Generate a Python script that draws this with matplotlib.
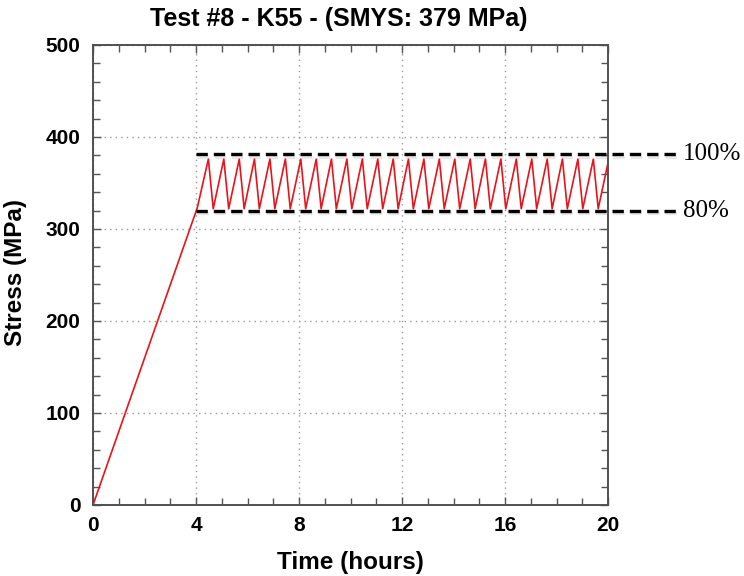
import matplotlib
matplotlib.use("Agg")
import matplotlib.pyplot as plt
import matplotlib.patheffects as pe
from matplotlib.ticker import MultipleLocator

# --- data ---
time_h = [0.0, 4.05, 4.48, 4.67, 5.08, 5.27, 5.68, 5.87, 6.27, 6.46, 6.87, 7.06,
          7.47, 7.66, 8.07, 8.26, 8.67, 8.86, 9.26, 9.45, 9.86, 10.05, 10.46, 10.65,
          11.06, 11.25, 11.66, 11.85, 12.25, 12.44, 12.85, 13.04, 13.45, 13.64,
          14.05, 14.24, 14.65, 14.84, 15.24, 15.43, 15.84, 16.03, 16.44, 16.63,
          17.04, 17.23, 17.64, 17.83, 18.23, 18.42, 18.83, 19.02, 19.43, 19.62, 20.0]
stress_mpa = [0, 323, 376, 322, 376, 322, 376, 322, 376, 322, 376, 322,
              376, 322, 376, 322, 376, 322, 376, 322, 376, 322, 376, 322,
              376, 322, 376, 322, 376, 322, 376, 322, 376, 322,
              376, 322, 376, 322, 376, 322, 376, 322, 376, 322,
              376, 322, 376, 322, 376, 322, 376, 322, 376, 322, 372]

limit_levels = [381, 320]
limit_labels = ["100%", "80%"]
limit_start = 4.0
limit_end = 22.7

title = "Test #8 - K55 - (SMYS: 379 MPa)"
xlabel = "Time (hours)"
ylabel = "Stress (MPa)"
xticks = [0, 4, 8, 12, 16, 20]
yticks = [0, 100, 200, 300, 400, 500]

fig = plt.figure(figsize=(7.44, 5.76), dpi=100)
ax = fig.add_axes([93/744, 71/576, 515/744, 460/576])

ax.plot(time_h, stress_mpa, color="#e8141b", lw=1.2, zorder=3)

shadow = [pe.SimpleLineShadow(offset=(1, -2), shadow_color="0.6", alpha=0.22), pe.Normal()]
for lvl, lab in zip(limit_levels, limit_labels):
    ax.plot([limit_start, limit_end], [lvl, lvl], color="black", lw=2.4,
            dashes=(3.4, 1.8), clip_on=False, zorder=4, path_effects=shadow)
    ax.text(limit_end + 0.2, lvl, lab, family="Liberation Serif", fontsize=18,
            va="center", ha="left", clip_on=False)

ax.set_xlim(0, 20)
ax.set_ylim(0, 500)
ax.set_xticks(xticks)
ax.set_yticks(yticks)
ax.xaxis.set_minor_locator(MultipleLocator(1))
ax.yaxis.set_minor_locator(MultipleLocator(20))
ax.grid(True, which="major", linestyle=(0, (1, 3)), color="0.6", lw=1)
ax.set_axisbelow(True)

ax.tick_params(which="both", direction="in", top=True, right=True, color="#555555")
ax.tick_params(which="major", length=6, width=1)
ax.tick_params(which="minor", length=5, width=1)
ax.tick_params(axis="x", pad=8)
ax.tick_params(axis="y", pad=9)
for s in ax.spines.values():
    s.set_color("#505050")
    s.set_linewidth(1.4)

for lbl in ax.get_xticklabels() + ax.get_yticklabels():
    lbl.set_family("Liberation Sans")
    lbl.set_fontweight("bold")
    lbl.set_fontsize(15)

fig.text(339/744, 1 - 19/576, title, ha="center", va="center",
         family="Liberation Sans", fontweight="bold", fontsize=18)
fig.text(350/744, 1 - 562/576, xlabel, ha="center", va="center",
         family="Liberation Sans", fontweight="bold", fontsize=17.5)
fig.text(16/744, 1 - 272/576, ylabel, ha="center", va="center", rotation=90,
         family="Liberation Sans", fontweight="bold", fontsize=17.5)

fig.savefig("out.png", dpi=100)
